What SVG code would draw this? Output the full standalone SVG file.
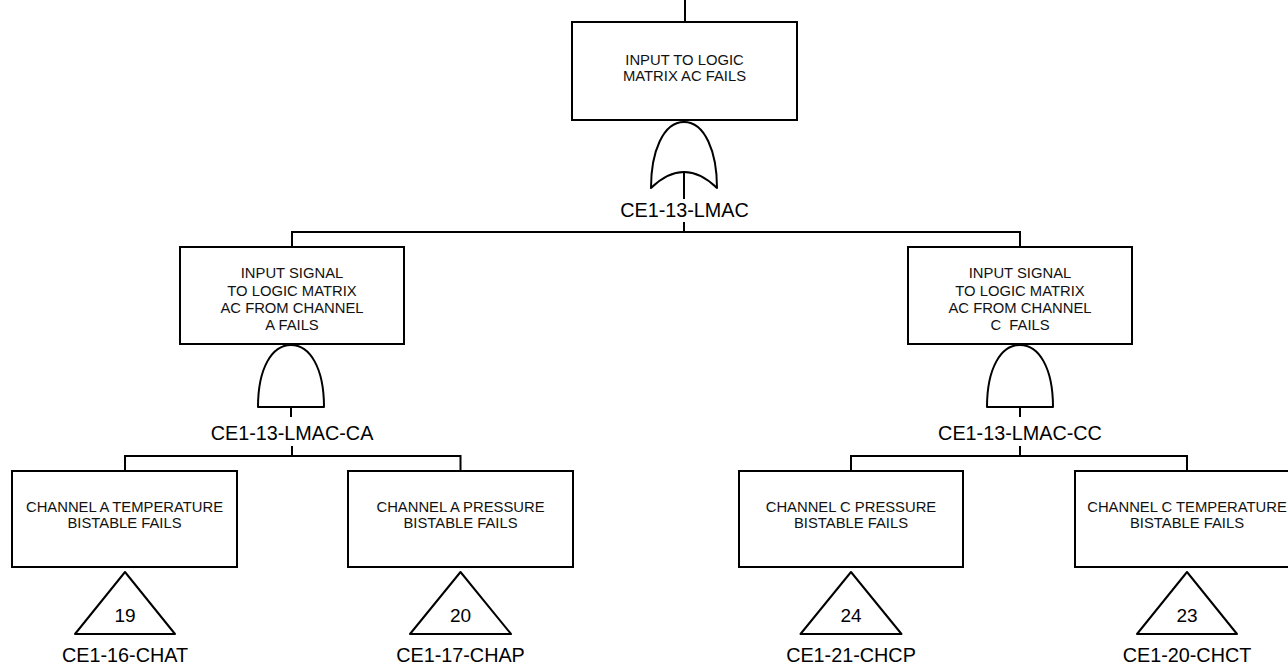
<svg xmlns="http://www.w3.org/2000/svg" width="1288" height="671" viewBox="0 0 1288 671">
<style>
.box{fill:#fff;stroke:#000;stroke-width:2}
.gate{fill:#fff;stroke:#000;stroke-width:2;stroke-linejoin:round}
.ln{fill:none;stroke:#000;stroke-width:2}
.bt{font-family:"Liberation Sans",Arial,sans-serif;font-size:14.8px;fill:#111;text-anchor:middle}
.lb{font-family:"Liberation Sans",Arial,sans-serif;font-size:19.8px;fill:#000;text-anchor:middle}
.nm{font-family:"Liberation Sans",Arial,sans-serif;font-size:19px;fill:#000;text-anchor:middle}
</style>
<rect width="1288" height="671" fill="#fff"/>
<g id="connectors">
<line class="ln" x1="685" y1="0" x2="685" y2="22"/>
<line class="ln" x1="684" y1="173" x2="684" y2="199"/>
<line class="ln" x1="684" y1="222" x2="684" y2="232"/>
<polyline class="ln" points="292,247 292,232 1020,232 1020,247"/>
<line class="ln" x1="291" y1="407" x2="291" y2="417"/>
<line class="ln" x1="292" y1="446" x2="292" y2="456"/>
<polyline class="ln" points="125,471 125,456 460.5,456 460.5,471"/>
<line class="ln" x1="1020" y1="407" x2="1020" y2="417"/>
<line class="ln" x1="1020" y1="446" x2="1020" y2="456"/>
<polyline class="ln" points="851,471 851,456 1187,456 1187,471"/>
</g>
<g id="top">
<rect class="box" x="572" y="22" width="225" height="98"/>
<text class="bt" x="684.5" y="65">INPUT TO LOGIC</text>
<text class="bt" x="684.5" y="81">MATRIX AC FAILS</text>
<path class="gate" d="M651 188 C651 152 663 122 684 122 C705 122 717 152 717 188 Q684 156 651 188 Z"/>
<text class="lb" x="684.5" y="217">CE1-13-LMAC</text>
</g>
<g id="mid-a">
<rect class="box" x="180" y="247" width="224" height="97"/>
<text class="bt" x="292" y="278">INPUT SIGNAL</text>
<text class="bt" x="292" y="296">TO LOGIC MATRIX</text>
<text class="bt" x="292" y="313">AC FROM CHANNEL</text>
<text class="bt" x="292" y="330">A FAILS</text>
<path class="gate" d="M258 407 C258 368 272 345 291 345 C310 345 324 368 324 407 Z"/>
<text class="lb" x="292" y="440">CE1-13-LMAC-CA</text>
</g>
<g id="mid-c">
<rect class="box" x="908" y="247" width="224" height="97"/>
<text class="bt" x="1020" y="278">INPUT SIGNAL</text>
<text class="bt" x="1020" y="296">TO LOGIC MATRIX</text>
<text class="bt" x="1020" y="313">AC FROM CHANNEL</text>
<text class="bt" x="1020" y="330" xml:space="preserve">C  FAILS</text>
<path class="gate" d="M987 407 C987 368 1001 345 1020 345 C1039 345 1053 368 1053 407 Z"/>
<text class="lb" x="1020" y="440">CE1-13-LMAC-CC</text>
</g>
<g id="chat">
<rect class="box" x="12" y="471" width="225" height="96"/>
<text class="bt" x="124.5" y="512">CHANNEL A TEMPERATURE</text>
<text class="bt" x="124.5" y="528">BISTABLE FAILS</text>
<polygon class="gate" points="125,572 175,634 75,634"/>
<text class="nm" x="125" y="622">19</text>
<text class="lb" x="125" y="662">CE1-16-CHAT</text>
</g>
<g id="chap">
<rect class="box" x="348" y="471" width="225" height="96"/>
<text class="bt" x="460.5" y="512">CHANNEL A PRESSURE</text>
<text class="bt" x="460.5" y="528">BISTABLE FAILS</text>
<polygon class="gate" points="460.5,572 511,634 410,634"/>
<text class="nm" x="460.5" y="622">20</text>
<text class="lb" x="460.5" y="662">CE1-17-CHAP</text>
</g>
<g id="chcp">
<rect class="box" x="739" y="471" width="224" height="96"/>
<text class="bt" x="851" y="512">CHANNEL C PRESSURE</text>
<text class="bt" x="851" y="528">BISTABLE FAILS</text>
<polygon class="gate" points="851,572 901.5,634 800.5,634"/>
<text class="nm" x="851" y="622">24</text>
<text class="lb" x="851" y="662">CE1-21-CHCP</text>
</g>
<g id="chct">
<rect class="box" x="1075" y="471" width="225" height="96"/>
<text class="bt" x="1187" y="512">CHANNEL C TEMPERATURE</text>
<text class="bt" x="1187" y="528">BISTABLE FAILS</text>
<polygon class="gate" points="1187,572 1237,634 1137,634"/>
<text class="nm" x="1187" y="622">23</text>
<text class="lb" x="1187" y="662">CE1-20-CHCT</text>
</g>
</svg>
